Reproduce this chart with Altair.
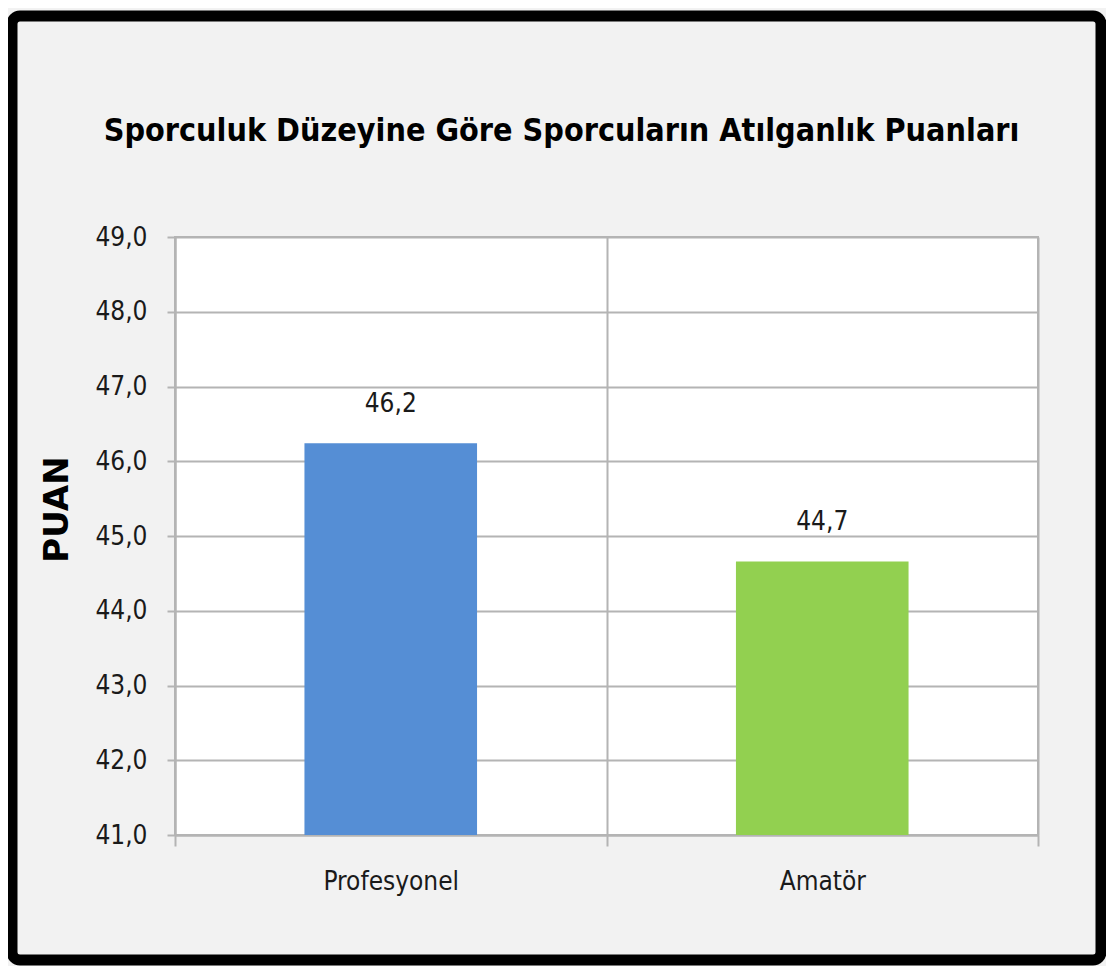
import altair as alt
import pandas as pd

categories = ["Profesyonel", "Amatör"]
values = [46.24, 44.66]
colors = ["#558ed5", "#92d050"]
y_ticks = [41, 42, 43, 44, 45, 46, 47, 48, 49]
title_text = "Sporculuk Düzeyine Göre Sporcuların Atılganlık Puanları"

df = pd.DataFrame({"kategori": categories, "puan": values, "renk": colors})

FONT = "DejaVu Sans Condensed, Liberation Sans Narrow, sans-serif"
GRID = "#b4b4b4"

x_enc = alt.X(
    "kategori:N",
    sort=categories,
    scale=alt.Scale(paddingInner=0, paddingOuter=0),
    axis=alt.Axis(
        title=None,
        tickBand="extent",
        grid=True,
        gridColor=GRID,
        gridWidth=2,
        domainColor=GRID,
        domainWidth=2,
        tickColor=GRID,
        tickWidth=2,
        tickSize=11,
        labelFont=FONT,
        labelFontSize=26,
        labelColor="#1a1a1a",
        labelPadding=22,
        labelAngle=0,
    ),
)

y_enc = alt.Y(
    "puan:Q",
    scale=alt.Scale(domain=[41, 49], zero=False, nice=False),
    axis=alt.Axis(
        values=y_ticks,
        labelExpr="replace(format(datum.value, '.1f'), '.', ',')",
        title="PUAN",
        titleFont="DejaVu Sans, sans-serif",
        titleFontWeight="bold",
        titleFontSize=34,
        titleColor="black",
        titleAngle=270,
        titleX=-118,
        titleY=272,
        titleAlign="center",
        titleBaseline="middle",
        grid=True,
        gridColor=GRID,
        gridWidth=2,
        domainColor=GRID,
        domainWidth=2,
        tickColor=GRID,
        tickWidth=2,
        tickSize=8,
        labelFont=FONT,
        labelFontSize=26,
        labelColor="#1a1a1a",
        labelPadding=20,
    ),
)

bars = alt.Chart(df).mark_bar(width={"band": 0.4}, clip=True).encode(
    x=x_enc,
    y=y_enc,
    color=alt.Color("renk:N", scale=None),
)

labels = (
    alt.Chart(df)
    .transform_calculate(etiket="replace(format(datum.puan, '.1f'), '.', ',')")
    .mark_text(dy=-31, baseline="alphabetic", fontSize=26, font=FONT, color="#1a1a1a")
    .encode(x=alt.X("kategori:N", sort=categories), y=alt.Y("puan:Q"), text="etiket:N")
)

frame = (
    alt.Chart(pd.DataFrame({"f": [0]}))
    .mark_rect(fill="white", fillOpacity=0, stroke="black", strokeWidth=11, cornerRadius=8)
    .encode(x=alt.value(-163), x2=alt.value(926), y=alt.value(-221), y2=alt.value(723))
)

chart = (
    alt.layer(bars, labels, frame)
    .properties(
        width=863,
        height=598,
        title=alt.TitleParams(
            title_text,
            font=FONT,
            fontSize=32,
            fontWeight="bold",
            color="black",
            anchor="middle",
            frame="group",
            offset=-137,
            dx=-45,
        ),
        autosize=alt.AutoSizeParams(type="none"),
        padding={"left": 167, "top": 229, "right": 68, "bottom": 131},
    )
    .configure(background="#f2f2f2")
    .configure_view(fill="white", stroke=GRID, strokeWidth=2)
)

chart.save("out.html", embed_options={"renderer": "svg", "actions": False})
